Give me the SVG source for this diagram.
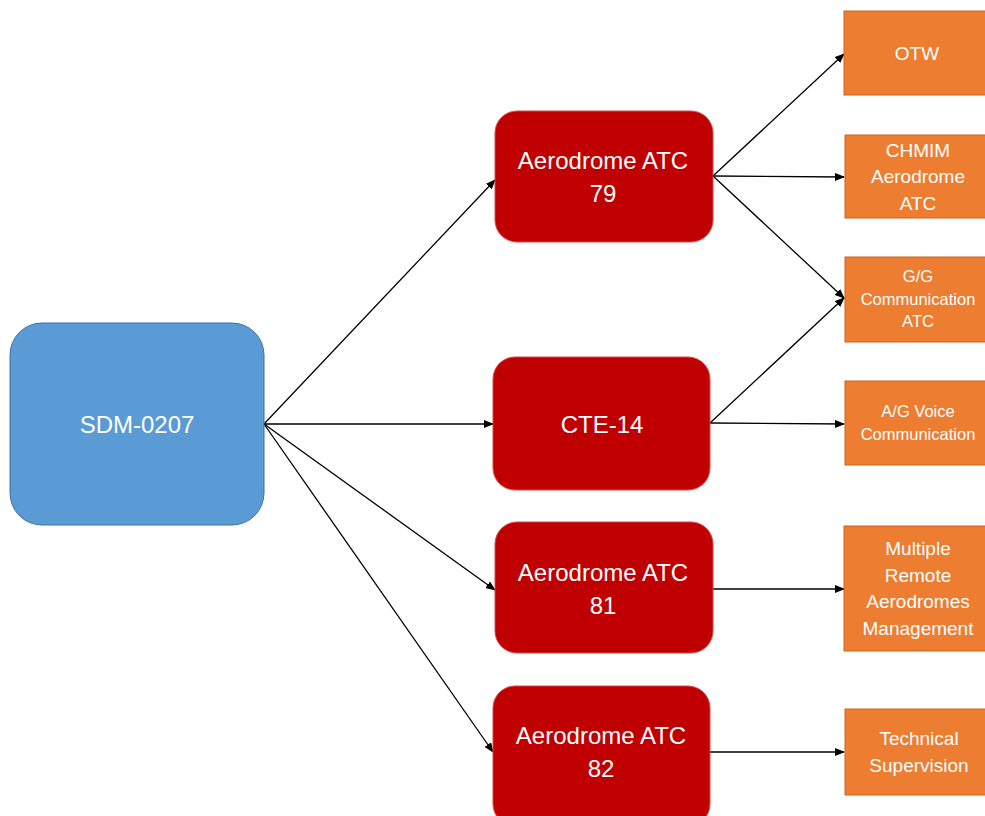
<svg xmlns="http://www.w3.org/2000/svg" width="985" height="816" viewBox="0 0 985 816">
  <defs>
    <marker id="arrow" markerWidth="10" markerHeight="8" refX="9" refY="4" orient="auto" markerUnits="userSpaceOnUse">
      <path d="M0,0 L10,4 L0,8 Z" fill="#000"/>
    </marker>
  </defs>
  <style>
    .root { fill: #5b9bd5; stroke: #41719c; stroke-width: 1; }
    .mid { fill: #c00000; stroke: #d24a4a; stroke-width: 1; }
    .leaf { fill: #ed7d31; stroke: #c9651f; stroke-width: 1; }
    text { font-family: "Liberation Sans", Arial, sans-serif; fill: #ffffff; text-anchor: middle; }
    .t-root { font-size: 24px; }
    .t-mid { font-size: 24px; }
    .t-leaf { font-size: 19px; }
    .t-small { font-size: 16.5px; }
    .conn line { stroke: #000; stroke-width: 1.3; fill: none; marker-end: url(#arrow); }
  </style>
  <rect width="985" height="816" fill="#ffffff"/>

  <g id="connectors" class="conn">
    <line x1="264" y1="424" x2="495" y2="180"/>
    <line x1="264" y1="424" x2="493" y2="424"/>
    <line x1="264" y1="424" x2="495" y2="590"/>
    <line x1="264" y1="424" x2="493" y2="752"/>
    <line x1="713" y1="176" x2="844" y2="54"/>
    <line x1="713" y1="176" x2="844" y2="177"/>
    <line x1="713" y1="176" x2="844" y2="298"/>
    <line x1="710" y1="423" x2="844" y2="298"/>
    <line x1="710" y1="423" x2="844" y2="424"/>
    <line x1="713" y1="589" x2="844" y2="589"/>
    <line x1="710" y1="752" x2="844" y2="752"/>
  </g>

  <g id="sdm-0207">
    <rect class="root" x="10" y="323" width="254" height="202" rx="32"/>
    <text class="t-root" x="137" y="433">SDM-0207</text>
  </g>

  <g id="aerodrome-atc-79">
    <rect class="mid" x="495" y="111" width="218" height="131" rx="22"/>
    <text class="t-mid" x="603" y="169">Aerodrome ATC</text>
    <text class="t-mid" x="603" y="202">79</text>
  </g>

  <g id="cte-14">
    <rect class="mid" x="493" y="357" width="217" height="133" rx="22"/>
    <text class="t-mid" x="602" y="433">CTE-14</text>
  </g>

  <g id="aerodrome-atc-81">
    <rect class="mid" x="495" y="522" width="218" height="131" rx="22"/>
    <text class="t-mid" x="603" y="581">Aerodrome ATC</text>
    <text class="t-mid" x="603" y="614">81</text>
  </g>

  <g id="aerodrome-atc-82">
    <rect class="mid" x="493" y="686" width="217" height="140" rx="22"/>
    <text class="t-mid" x="601" y="744">Aerodrome ATC</text>
    <text class="t-mid" x="601" y="777">82</text>
  </g>

  <g id="otw">
    <rect class="leaf" x="844" y="11" width="150" height="84"/>
    <text class="t-leaf" x="917" y="60">OTW</text>
  </g>

  <g id="chmim-aerodrome-atc">
    <rect class="leaf" x="845" y="135" width="150" height="83"/>
    <text class="t-leaf" x="918" y="157">CHMIM</text>
    <text class="t-leaf" x="918" y="183">Aerodrome</text>
    <text class="t-leaf" x="918" y="210">ATC</text>
  </g>

  <g id="gg-communication-atc">
    <rect class="leaf" x="845" y="257" width="150" height="85"/>
    <text class="t-small" x="918" y="282">G/G</text>
    <text class="t-small" x="918" y="305">Communication</text>
    <text class="t-small" x="918" y="327">ATC</text>
  </g>

  <g id="ag-voice-communication">
    <rect class="leaf" x="845" y="381" width="150" height="84"/>
    <text class="t-small" x="918" y="417">A/G Voice</text>
    <text class="t-small" x="918" y="440">Communication</text>
  </g>

  <g id="multiple-remote-aerodromes-management">
    <rect class="leaf" x="844" y="526" width="150" height="125"/>
    <text class="t-leaf" x="918" y="555">Multiple</text>
    <text class="t-leaf" x="918" y="582">Remote</text>
    <text class="t-leaf" x="918" y="608">Aerodromes</text>
    <text class="t-leaf" x="918" y="635">Management</text>
  </g>

  <g id="technical-supervision">
    <rect class="leaf" x="845" y="709" width="150" height="86"/>
    <text class="t-leaf" x="919" y="745">Technical</text>
    <text class="t-leaf" x="919" y="772">Supervision</text>
  </g>
</svg>
